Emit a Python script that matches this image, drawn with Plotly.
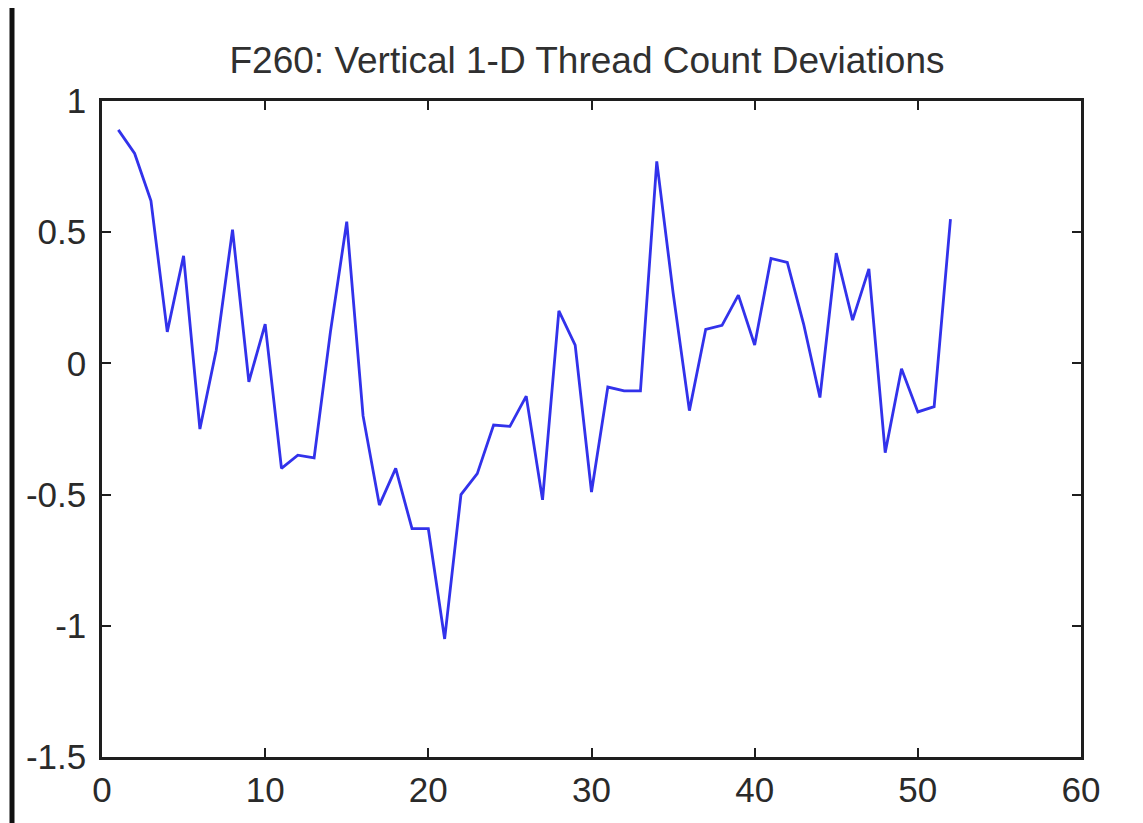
import plotly.graph_objects as go

# Data
thread_index = list(range(1, 53))
deviation = [
    0.89, 0.80, 0.62, 0.12, 0.41, -0.25, 0.05, 0.51, -0.07, 0.15,
    -0.40, -0.35, -0.36, 0.12, 0.54, -0.20, -0.54, -0.40, -0.63, -0.63,
    -1.05, -0.50, -0.42, -0.235, -0.24, -0.125, -0.52, 0.20, 0.07, -0.49,
    -0.09, -0.105, -0.105, 0.77, 0.27, -0.18, 0.13, 0.145, 0.26, 0.07,
    0.40, 0.385, 0.15, -0.13, 0.42, 0.165, 0.36, -0.34, -0.02, -0.185,
    -0.165, 0.55,
]
x_ticks = [0, 10, 20, 30, 40, 50, 60]
x_tick_text = ["0", "10", "20", "30", "40", "50", "60"]
y_ticks = [-1.5, -1, -0.5, 0, 0.5, 1]
y_tick_text = ["-1.5", "-1", "-0.5", "0", "0.5", "1"]
title_text = "F260: Vertical 1-D Thread Count Deviations"

W, H = 1143, 823
OFF = 8  # page body margin
L, R, T, B = 102 - OFF, 1143 - 1081 + OFF, 101 - OFF, 823 - 757 + OFF
plot_w = W - L - R
plot_h = H - T - B

font_family = "Liberation Sans, Arial, sans-serif"

fig = go.Figure()
fig.add_trace(go.Scatter(
    x=thread_index, y=deviation, mode="lines",
    line=dict(color="rgb(50,50,235)", width=2.8),
    showlegend=False, hoverinfo="skip",
))

axis_common = dict(
    showline=True, linecolor="#1e1e1e", linewidth=2.5, mirror="ticks",
    ticks="inside", ticklen=9, tickwidth=2, tickcolor="#1e1e1e",
    showgrid=False, zeroline=False,
    tickfont=dict(family=font_family, size=35, color="#2a2a2a"),
)

fig.update_xaxes(range=[0, 60], tickvals=x_ticks, ticktext=x_tick_text,
                 ticklabelstandoff=0, **axis_common)
fig.update_yaxes(range=[-1.5, 1], tickvals=y_ticks, ticktext=y_tick_text,
                 ticklabelstandoff=6, **axis_common)

# dark vertical edge at the far left of the screenshot
edge_x = 12 - OFF
fig.add_shape(type="line", xref="paper", yref="paper",
              x0=(edge_x - L) / plot_w, x1=(edge_x - L) / plot_w,
              y0=(H - B - (H + 10)) / plot_h, y1=(H - B - 0) / plot_h,
              line=dict(color="#111111", width=5))

fig.update_layout(
    width=W, height=H,
    margin=dict(l=L, r=R, t=T, b=B),
    paper_bgcolor="white", plot_bgcolor="white",
    title=dict(text=title_text, x=(587 - OFF) / W, xanchor="center",
               y=1 - (60 - OFF) / H, yanchor="middle", yref="container",
               font=dict(family=font_family, size=37, color="#303030")),
)

fig.write_html("out.html")
